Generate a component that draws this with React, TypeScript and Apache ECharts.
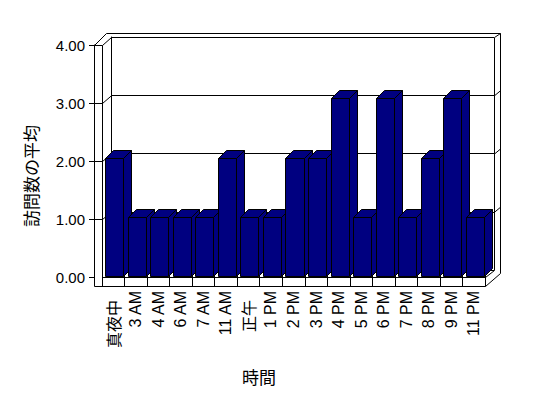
import React, { useEffect, useRef } from "react";
import * as echarts from "echarts";

const categories = ["真夜中", "3 AM", "4 AM", "6 AM", "7 AM", "11 AM", "正午", "1 PM", "2 PM", "3 PM", "4 PM", "5 PM", "6 PM", "7 PM", "8 PM", "9 PM", "11 PM"];
const visits = [2, 1, 1, 1, 1, 2, 1, 1, 2, 2, 3, 1, 3, 1, 2, 3, 1];
const yMin = 0;
const yMax = 4;
const yStep = 1;
const yTitle = "訪問数の平均";
const xTitle = "時間";

const LATIN = "'Liberation Sans', Arial, 'Noto Sans CJK JP', sans-serif";
const CJK = "'Noto Sans CJK JP', 'Liberation Sans', sans-serif";

function line(points: number[][]) {
  return {
    type: "polyline",
    silent: true,
    shape: { points: points.map(([x, y]) => [x + 0.5, y + 0.5]) },
    style: { stroke: "#000", lineWidth: 1, fill: "none" },
  };
}

export default function App() {
  const ref = useRef<HTMLDivElement>(null);
  useEffect(() => {
    if (!ref.current) return;
    const chart = echarts.init(ref.current, null, { renderer: "svg" });

    const fL = 94, fIn = 102, fR = 485, fTop = 45, fBase = 277, fBottom = 286;
    const bL = 111, bR = 494, bTop = 37, bBase = 270, bOutTop = 33, bOutR = 500, bOutL = 106;
    const frontY = (v: number) => fBase - ((fBase - fTop) * v) / yMax;
    const backY = (v: number) => bBase - ((bBase - bTop) * v) / yMax;

    const deco: any[] = [
      line([[fL, fTop], [fL, fBottom]]),
      line([[fIn, fTop], [fIn, fBase]]),
      line([[fL, fTop], [fIn, fTop]]),
      line([[fL, fTop], [bOutL, bOutTop]]),
      line([[fIn, fTop], [bL, bTop]]),
      line([[bOutL, bOutTop], [bOutR, bOutTop]]),
      line([[bR, bTop], [bOutR, bOutTop]]),
      line([[bR, bTop], [bR, bBase]]),
      line([[bOutR, bOutTop], [bOutR, 273]]),
      line([[fL, fBottom], [fR, fBottom]]),
      line([[fIn, fBase], [fR, fBase]]),
      line([[fR, fBase], [fR, fBottom]]),
      line([[fR, fBase], [bR, bBase]]),
      line([[fR, fBottom], [bOutR, 273]]),
    ];
    for (let v = yMin + yStep; v < yMax; v += yStep) {
      deco.push(line([[fL, frontY(v)], [fIn, frontY(v)], [bL, backY(v)]]));
      deco.push(line([[bR, backY(v)], [bOutR, backY(v) - 5]]));
    }

    const option: any = {
      animation: false,
      backgroundColor: "#fff",
      grid: [
        { left: fIn, right: 548 - fR, top: 39, bottom: 398 - 276 },
        { left: fL, right: 548 - fR, top: fTop, bottom: 398 - fBase },
        { left: bL, right: 548 - bR, top: bTop, bottom: 398 - bBase },
      ],
      xAxis: [
        {
          type: "category",
          gridIndex: 0,
          data: categories,
          boundaryGap: true,
          axisLine: { show: false },
          axisTick: { show: true, length: 10, lineStyle: { color: "#000", width: 1 } },
          axisLabel: {
            interval: 0,
            rotate: 90,
            margin: 15,
            color: "#000",
            fontSize: 16,
            fontFamily: LATIN,
            formatter: (v: string) => (/[^\x00-\x7F]/.test(v) ? `{c|${v}}` : v),
            rich: { c: { fontFamily: CJK, fontSize: 16, color: "#000", padding: [0, 9, 0, 0] } },
          },
          splitLine: { show: false },
        },
        { type: "category", gridIndex: 1, data: categories, show: false },
        { type: "category", gridIndex: 2, data: categories, show: false },
      ],
      yAxis: [
        { type: "value", gridIndex: 0, min: yMin, max: yMax, interval: yStep, show: false },
        {
          type: "value",
          gridIndex: 1,
          min: yMin,
          max: yMax,
          interval: yStep,
          axisLine: { show: true, lineStyle: { color: "#000", width: 1 } },
          axisTick: { show: true, length: 5, lineStyle: { color: "#000", width: 1 } },
          axisLabel: {
            color: "#000",
            fontSize: 15,
            fontFamily: LATIN,
            margin: 9,
            formatter: (v: number) => v.toFixed(2),
          },
          splitLine: { show: false },
        },
        {
          type: "value",
          gridIndex: 2,
          min: yMin,
          max: yMax,
          interval: yStep,
          axisLine: { show: true, lineStyle: { color: "#000", width: 1 } },
          axisTick: { show: false },
          axisLabel: { show: false },
          splitLine: { show: true, lineStyle: { color: "#000", width: 1, type: "solid" } },
        },
      ],
      graphic: [
        ...deco,
        {
          type: "text",
          x: 259,
          y: 376,
          style: { text: xTitle, fontFamily: CJK, fontSize: 17, fill: "#000", textAlign: "center", textVerticalAlign: "middle" },
        },
        {
          type: "text",
          x: 30,
          y: 176,
          rotation: Math.PI / 2,
          style: { text: yTitle, fontFamily: CJK, fontSize: 17, fill: "#000", textAlign: "center", textVerticalAlign: "middle" },
        },
      ],
      series: [
        {
          type: "custom",
          xAxisIndex: 0,
          yAxisIndex: 0,
          z: 5,
          encode: { x: 0, y: 1 },
          data: visits.map((v, i) => [i, v]),
          renderItem: (_params: any, api: any) => {
            const idx = api.value(0);
            const v = api.value(1);
            const top = api.coord([idx, v]);
            const base = api.coord([idx, 0]);
            const band = api.size([1, 0])[0];
            const w = band * 0.8;
            const cx = top[0] + 1;
            const x0 = Math.round(cx - w / 2) + 0.5;
            const x1 = Math.round(cx + w / 2) + 0.5;
            const yt = Math.round(top[1]) + 0.5;
            const yb = Math.round(base[1]) + 0.5;
            const dx = 8, dy = 8;
            const style = { fill: "#000080", stroke: "#000", lineWidth: 1 };
            return {
              type: "group",
              children: [
                { type: "polygon", shape: { points: [[x1, yt], [x1 + dx, yt - dy], [x1 + dx, yb - dy], [x1, yb]] }, style },
                { type: "polygon", shape: { points: [[x0, yt], [x0 + dx, yt - dy], [x1 + dx, yt - dy], [x1, yt]] }, style },
                { type: "rect", shape: { x: x0, y: yt, width: x1 - x0, height: yb - yt }, style },
              ],
            };
          },
        },
      ],
    };
    chart.setOption(option);
    return () => chart.dispose();
  }, []);
  return <div ref={ref} style={{ position: "fixed", left: 0, top: 0, width: 548, height: 398, background: "#fff" }} />;
}
